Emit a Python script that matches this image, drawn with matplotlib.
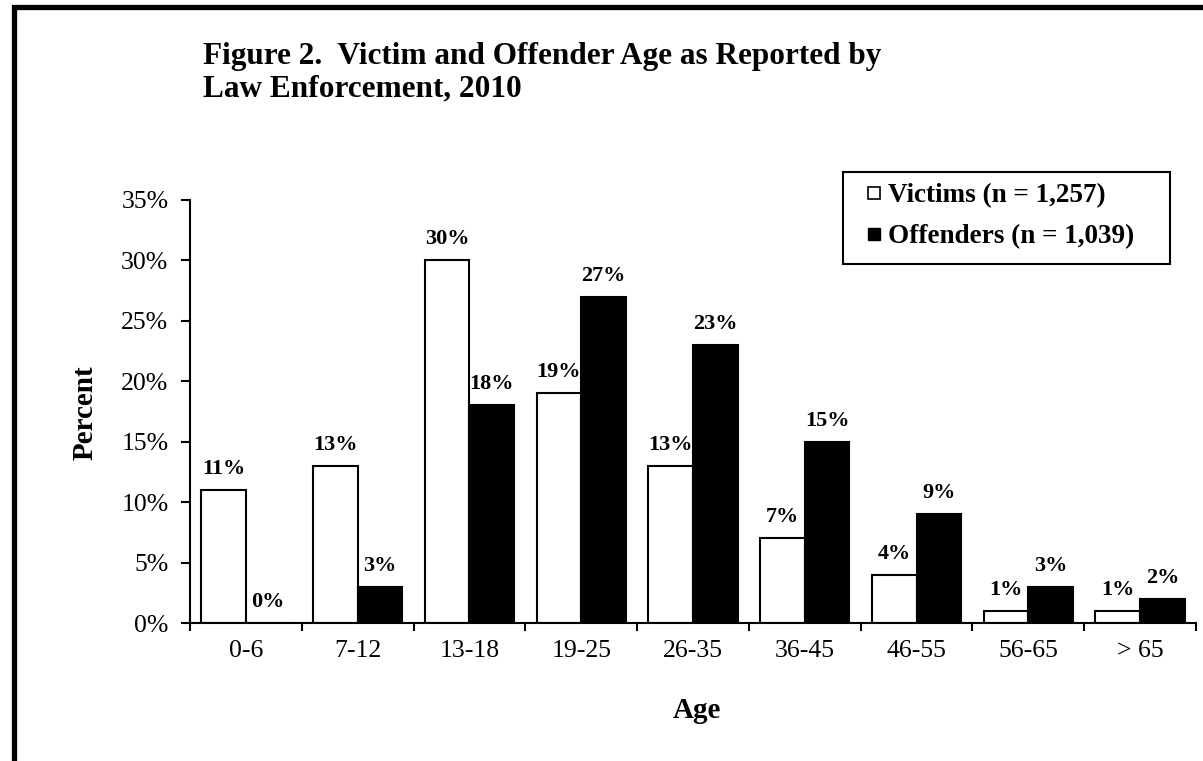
import matplotlib
matplotlib.use("Agg")
from matplotlib import pyplot as plt
from matplotlib.lines import Line2D
from matplotlib.patches import Rectangle
import numpy as np

plt.rcParams['font.family'] = ['Liberation Serif', 'DejaVu Serif']

ages = ['0-6', '7-12', '13-18', '19-25', '26-35', '36-45', '46-55', '56-65', '> 65']
victims = [11, 13, 30, 19, 13, 7, 4, 1, 1]
offenders = [0, 3, 18, 27, 23, 15, 9, 3, 2]
yticks = [0, 5, 10, 15, 20, 25, 30, 35]

W, H = 1203, 761
fig = plt.figure(figsize=(W/100, H/100), dpi=100)
ax = fig.add_axes([190/W, 1-623/H, (1196-190)/W, (623-200)/H])

x = np.arange(len(ages))
w = 0.4
ax.bar(x + 0.1, victims, w, align='edge', color='white', edgecolor='black', linewidth=1.5)
ax.bar(x + 0.5, offenders, w, align='edge', color='black', edgecolor='black', linewidth=1.5)

for i in range(len(ages)):
    ax.annotate(f'{victims[i]}%', (x[i] + 0.3, victims[i]), xytext=(0, 8),
                textcoords='offset points', ha='center', va='bottom',
                fontsize=16, fontweight='bold')
    ax.annotate(f'{offenders[i]}%', (x[i] + 0.7, offenders[i]), xytext=(0, 8),
                textcoords='offset points', ha='center', va='bottom',
                fontsize=16, fontweight='bold')

ax.set_xlim(0, len(ages))
ax.set_ylim(0, 35)
ax.set_yticks(yticks)
ax.set_yticklabels([f'{t}%' for t in yticks], fontsize=18.5)
ax.set_xticks(np.arange(len(ages) + 1))
ax.set_xticklabels([])
ax.set_xticks(x + 0.5, minor=True)
ax.set_xticklabels(ages, minor=True, fontsize=18.5)
ax.tick_params(axis='x', which='major', direction='out', length=6, width=1.5)
ax.tick_params(axis='x', which='minor', length=0, pad=12)
ax.tick_params(axis='y', direction='out', length=6.5, width=1.5, pad=9)
for s in ['top', 'right']:
    ax.spines[s].set_visible(False)
for s in ['left', 'bottom']:
    ax.spines[s].set_linewidth(1.5)

fig.text(85/W, 1-413/H, 'Percent', rotation=90, ha='center', va='center',
         fontsize=21, fontweight='bold')
fig.text(697/W, 1-710/H, 'Age', ha='center', va='center',
         fontsize=21, fontweight='bold')

fig.text(203/W, 1-42/H, 'Figure 2.  Victim and Offender Age as Reported by\nLaw Enforcement, 2010',
         ha='left', va='top', fontsize=22.5, fontweight='bold', linespacing=1.15)

# legend: entries placed without frame, box drawn separately
handles = [Line2D([], [], marker='s', ls='none', markersize=9, markerfacecolor='white',
                  markeredgecolor='black', markeredgewidth=1.2),
           Line2D([], [], marker='s', ls='none', markersize=9, markerfacecolor='black',
                  markeredgecolor='black')]
fig.legend(handles, ['Victims (n = 1,257)', 'Offenders (n = 1,039)'],
           loc='upper left', bbox_to_anchor=(866/W, 1-183/H),
           bbox_transform=fig.transFigure, borderaxespad=0, borderpad=0,
           prop={'size': 19.5, 'weight': 'bold'}, handlelength=0.6,
           handletextpad=0.2, labelspacing=0.6, frameon=False)
fig.patches.append(Rectangle((843/W, 1-264/H), (1170-843)/W, (264-172)/H,
                             transform=fig.transFigure, fill=False,
                             edgecolor='black', linewidth=1.5, figure=fig))

# outer frame
fig.patches.append(Rectangle((13.5/W, -0.2), 1.5, 1.2 - 7/H, transform=fig.transFigure,
                             fill=False, edgecolor='black', linewidth=3.8, figure=fig))

fig.savefig('out.png', dpi=100)
